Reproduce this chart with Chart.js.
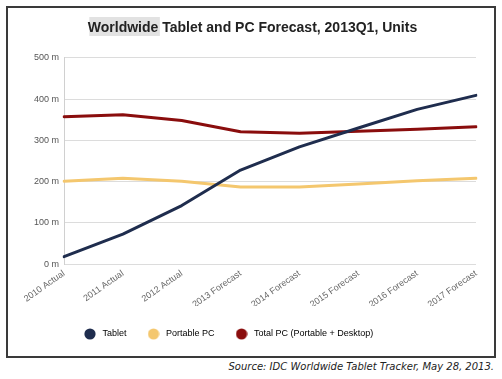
<!DOCTYPE html>
<html>
<head>
<meta charset="utf-8">
<script src="https://cdn.jsdelivr.net/npm/chart.js@4"></script>
<style>
  html, body { margin: 0; padding: 0; background: #fff; }
  body { width: 502px; height: 379px; position: relative; overflow: hidden; font-family: "Liberation Sans", Arial, sans-serif; }
  #frame { position: absolute; left: 6px; top: 6px; width: 486px; height: 348px; border: 2px solid #3a3a3a; background: #fff; }
  #frame canvas { display: block; }
  #source { position: absolute; right: 8px; top: 361px; font-family: "DejaVu Sans", sans-serif; font-style: italic; font-size: 10px; color: #222; white-space: nowrap; }
</style>
</head>
<body>
<div id="frame"><canvas id="c" width="486" height="348"></canvas></div>
<div id="source">Source: IDC Worldwide Tablet Tracker, May 28, 2013.</div>
<script>
const categories = ["2010 Actual", "2011 Actual", "2012 Actual", "2013 Forecast", "2014 Forecast", "2015 Forecast", "2016 Forecast", "2017 Forecast"];
const tablet     = [18, 73, 142, 228, 284, 330, 375, 409];
const portablePC = [201, 208, 201, 187, 187, 194, 202, 208];
const totalPC    = [357, 362, 348, 321, 317, 322, 327, 333];
const yTicks     = [0, 100, 200, 300, 400, 500];
const seriesNames  = ["Tablet", "Portable PC", "Total PC (Portable + Desktop)"];
const seriesColors = ["#1f2d4e", "#f4c76e", "#8a0d0d"];
const titleText = "Worldwide Tablet and PC Forecast, 2013Q1, Units";
const FONT = '"Liberation Sans", Arial, sans-serif';

function dot(color) {
  const cv = document.createElement('canvas');
  cv.width = 12; cv.height = 12;
  const g = cv.getContext('2d');
  g.beginPath(); g.arc(6, 6, 5.6, 0, Math.PI * 2);
  g.fillStyle = color; g.fill();
  return cv;
}

const legendShift = {
  id: 'legendShift',
  afterLayout(chart) {
    const lg = chart.legend;
    if (!lg) return;
    const pad = lg.options.labels.padding;
    const h = lg.bottom - lg.top;
    lg.left = 74 - pad;
    lg.top = 326 - pad - 4.5;
    lg.bottom = lg.top + h;
  }
};

const highlight = {
  id: 'highlight',
  beforeDraw(chart) {
    const ctx = chart.ctx;
    ctx.save();
    ctx.font = 'bold 14px ' + FONT;
    const full = ctx.measureText(titleText).width;
    const w = ctx.measureText("Worldwide").width;
    const x0 = chart.width / 2 - full / 2;
    ctx.fillStyle = '#e2e2e2';
    ctx.fillRect(x0 + 3, 9, w, 19);
    ctx.restore();
  }
};

new Chart(document.getElementById('c'), {
  type: 'line',
  data: {
    labels: categories,
    datasets: [
      { label: seriesNames[0], data: tablet, borderColor: seriesColors[0], backgroundColor: seriesColors[0] },
      { label: seriesNames[1], data: portablePC, borderColor: seriesColors[1], backgroundColor: seriesColors[1] },
      { label: seriesNames[2], data: totalPC, borderColor: seriesColors[2], backgroundColor: seriesColors[2] }
    ]
  },
  options: {
    responsive: false,
    animation: false,
    devicePixelRatio: 1,
    elements: {
      line: { borderWidth: 3, tension: 0, borderCapStyle: 'round', borderJoinStyle: 'round' },
      point: { radius: 0, hoverRadius: 0 }
    },
    layout: { padding: { left: 21, right: 18, top: 4, bottom: 12 } },
    plugins: {
      title: {
        display: true,
        text: titleText,
        color: '#222',
        font: { family: FONT, size: 14, weight: 'bold' },
        padding: { top: 8, bottom: 21 }
      },
      legend: {
        position: 'bottom',
        align: 'start',
        labels: {
          usePointStyle: true,
          pointStyleWidth: 16,
          boxHeight: 10,
          padding: 19,
          color: '#555',
          font: { family: FONT, size: 9 },
          generateLabels(chart) {
            return chart.data.datasets.map((ds, i) => ({
              text: ds.label,
              fillStyle: seriesColors[i],
              strokeStyle: seriesColors[i],
              lineWidth: 0,
              pointStyle: dot(seriesColors[i]),
              datasetIndex: i,
              hidden: false
            }));
          }
        }
      },
      tooltip: { enabled: false }
    },
    scales: {
      x: {
        offset: false,
        grid: { display: false },
        border: { display: false },
        ticks: {
          color: '#666',
          font: { family: FONT, size: 9 },
          minRotation: 35, maxRotation: 35,
          autoSkip: false,
          padding: -4
        }
      },
      y: {
        min: 0, max: 500,
        afterBuildTicks(axis) { axis.ticks = yTicks.map(v => ({ value: v })); },
        grid: { color: '#dcdcdc', drawTicks: false },
        border: { display: true, color: '#d0d0d0' },
        ticks: {
          color: '#555',
          padding: 5,
          font: { family: FONT, size: 9 },
          callback: v => v + ' m'
        }
      }
    }
  },
  plugins: [legendShift, highlight]
});
</script>
</body>
</html>
